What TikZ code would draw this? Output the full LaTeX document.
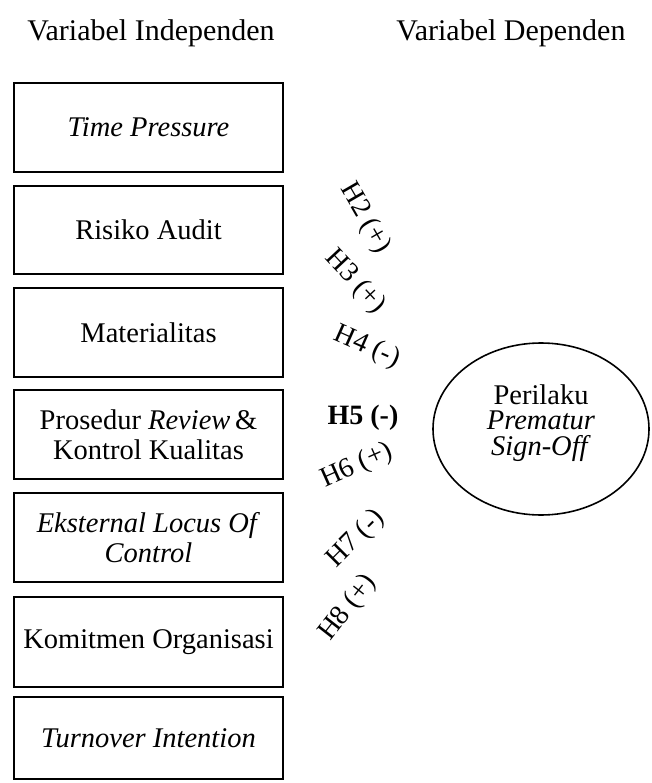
\documentclass[tikz,border=0pt]{standalone}
\usepackage{fontspec}
\setmainfont{Liberation Serif}
\usetikzlibrary{shapes.geometric}
\begin{document}
\begin{tikzpicture}[x=1pt,y=-1pt,
  varbox/.style={draw,line width=2.2pt,minimum width=269pt,inner sep=0pt,align=center,font=\fontsize{28.5}{30}\selectfont},
  hlab/.style={font=\fontsize{28}{28}\selectfont,inner sep=0pt},
  head/.style={font=\fontsize{30}{30}\selectfont,inner sep=0pt}]
\useasboundingbox (0,0) rectangle (651,783);
\node[head] (h1) at (151,33) {Variabel Independen};
\node[head] (h2) at (511,33) {Variabel Dependen};
\node[varbox,minimum height=89pt] (b1) at (148.5,127.5) {\textit{Time Pressure}};
\node[varbox,minimum height=88pt] (b2) at (148.5,230) {Risiko Audit};
\node[varbox,minimum height=89pt] (b3) at (148.5,332.5) {Materialitas};
\node[varbox,minimum height=89pt] (b4) at (148.5,434.5) {Prosedur \textit{Review}\,\&\\Kontrol Kualitas};
\node[varbox,minimum height=89pt] (b5) at (148.5,537.5) {\textit{Eksternal Locus Of}\\\textit{Control}};
\node[varbox,minimum height=90pt] (b6) at (148.5,642) {Komitmen Organisasi};
\node[varbox,minimum height=82pt] (b7) at (148.5,738) {\textit{Turnover Intention}};
\node[draw,ellipse,line width=1.6pt,minimum width=216pt,minimum height=172pt,inner sep=0pt] (dv) at (541,429) {};
\node[align=center,inner sep=0pt,font=\fontsize{28.5}{25.5}\selectfont] (dvt) at (541,423) {Perilaku\\\textit{Prematur}\\\textit{Sign-Off}};
\node[hlab,rotate=-60] (l2) at (365,218) {H2 (+)};
\node[hlab,rotate=-47] (l3) at (355,282) {H3 (+)};
\node[hlab,rotate=-24] (l4) at (367,347) {H4 (-)};
\node[hlab,font=\fontsize{28}{28}\selectfont\bfseries] (l5) at (363,418) {H5 (-)};
\node[hlab,rotate=24] (l6) at (357,466) {H6 (+)};
\node[hlab,rotate=45] (l7) at (356,539) {H7 (-)};
\node[hlab,rotate=52] (l8) at (348,608) {H8 (+)};
\end{tikzpicture}
\end{document}
